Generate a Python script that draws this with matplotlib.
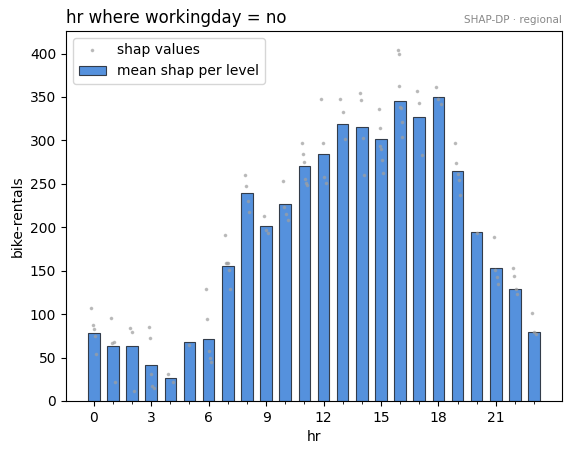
import numpy as np
import matplotlib.pyplot as plt
from matplotlib.ticker import MultipleLocator, FixedLocator

# hour levels and mean shap per level
hours = list(range(24))
mean_shap = [78, 63, 63, 41, 26, 68, 71, 155, 240, 201, 227, 270,
             284, 319, 315, 302, 345, 327, 350, 265, 195, 153, 129, 80]

# individual shap values per hour
shap_points = [
    [107, 87, 83, 75, 54],
    [95, 67, 68, 22],
    [84, 79, 11],
    [85, 73, 31, 17, 15],
    [31, 22],
    [64],
    [129, 94, 58, 49, 45],
    [191, 159, 159, 159, 151, 129],
    [260, 247, 230, 218],
    [213, 197, 193],
    [253, 223, 215, 208],
    [297, 284, 275, 256, 251, 249],
    [348, 297, 258, 251],
    [348, 333, 302],
    [355, 346, 303, 260],
    [336, 314, 294, 290, 278, 263],
    [404, 399, 363, 339, 337, 321, 304],
    [357, 343, 283],
    [361, 348, 342],
    [297, 274, 261, 254, 237],
    [193],
    [189, 151, 143, 135],
    [153, 144, 129, 123],
    [101, 80, 77],
]

fig = plt.figure(figsize=(5.71, 4.55), dpi=100)
ax = fig.add_axes([0.1156, 0.1187, 0.8684, 0.8132])

# small fixed spread so the dots don't sit on one line
xs, ys = [], []
for h, vals in zip(hours, shap_points):
    n = len(vals)
    offs = np.linspace(-0.12, 0.12, n) if n > 1 else [0.0]
    for o, v in zip(offs, vals):
        xs.append(h + o)
        ys.append(v)
ax.plot(xs, ys, '.', color='#a0a0a0', alpha=0.6, markersize=3.2,
        label='shap values', zorder=3, linestyle='none')

ax.bar(hours, mean_shap, width=0.6, color='#5591dd', edgecolor='#333c4a',
       linewidth=0.8, label='mean shap per level', zorder=2)

ax.set_xlim(-1.45, 24.45)
ax.set_ylim(0, 426)
ax.set_xticks(range(0, 24, 3))
ax.xaxis.set_minor_locator(FixedLocator(hours))
ax.yaxis.set_major_locator(MultipleLocator(50))

ax.set_xlabel('hr')
ax.set_ylabel('bike-rentals')
ax.set_title('hr where workingday = no', loc='left', fontsize=12)
ax.set_title('SHAP-DP · regional', loc='right', fontsize=7.5, color='#888888')

ax.legend(loc='upper left')

fig.savefig('out.png', dpi=100)
